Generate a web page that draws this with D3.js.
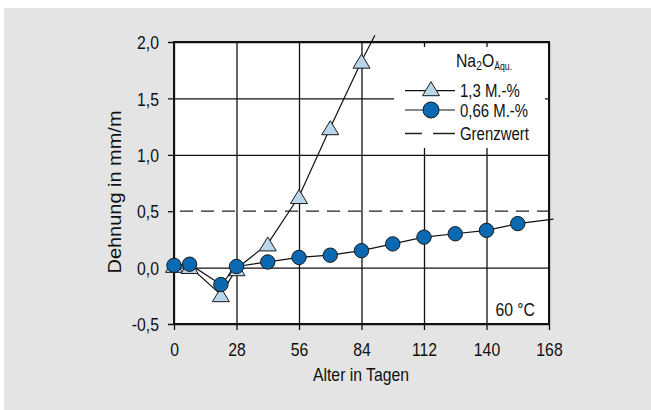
<!DOCTYPE html>
<html>
<head>
<meta charset="utf-8">
<script src="https://cdn.jsdelivr.net/npm/d3@7"></script>
<style>
  html, body { margin: 0; padding: 0; background: #ffffff; }
  svg { display: block; }
  text { font-family: "Liberation Sans", Arial, sans-serif; fill: #111; }
</style>
</head>
<body>
<svg id="chart" width="651" height="410"></svg>
<script>
// ---- data ----
const xTicks = [0, 28, 56, 84, 112, 140, 168];
const yTicks = [-0.5, 0.0, 0.5, 1.0, 1.5, 2.0];

const days13 = [0, 7, 21, 28, 42, 56, 70, 84];
const vals13 = [0.02, 0.01, -0.24, -0.01, 0.21, 0.63, 1.24, 1.83];
const trendEnd13 = [90, 2.06];

const days066 = [0, 7, 21, 28, 42, 56, 70, 84, 98, 112, 126, 140, 154];
const vals066 = [0.02, 0.03, -0.15, 0.01, 0.05, 0.09, 0.11, 0.15, 0.21, 0.27, 0.30, 0.33, 0.39];
const trendEnd066 = [170, 0.43];

const limitValue = 0.5;
const legendTitle = "Na";
const legendLabels = ["1,3 M.-%", "0,66 M.-%", "Grenzwert"];
const tempLabel = "60 °C";
const xTitle = "Alter in Tagen";
const yTitle = "Dehnung in mm/m";

// ---- layout ----
const SX = 0.83; // horizontal condensing of the font
const FS = 19;
const svg = d3.select("#chart");
const L = 174, R = 549, T = 42, B = 324;
const x = d3.scaleLinear().domain([0, 168]).range([L, R]);
const y = d3.scaleLinear().domain([-0.5, 2.0]).range([B, T]);
const fmt = d => d3.format(".1f")(d).replace(".", ",").replace("−", "-");

function ctext(px, py, str, size, anchor) {
  return svg.append("text")
    .attr("transform", `translate(${px},${py}) scale(${SX},1)`)
    .attr("text-anchor", anchor || "start")
    .attr("font-size", size || FS)
    .text(str);
}

// background
svg.append("rect").attr("x", 4).attr("y", 8).attr("width", 647).attr("height", 402).attr("fill", "#e3e4e3");
svg.append("rect").attr("x", L).attr("y", T).attr("width", R - L).attr("height", B - T).attr("fill", "#fff");

// grid + ticks via axes
const gx = svg.append("g").attr("transform", `translate(0,${B})`)
  .call(d3.axisBottom(x).tickValues(xTicks).tickSize(-(B - T)).tickSizeOuter(0).tickPadding(0));
gx.select(".domain").remove();
gx.selectAll(".tick line").attr("stroke", "#111").attr("stroke-width", 1.3).attr("y1", 6);
gx.selectAll(".tick text").attr("font-size", FS).attr("dy", 0).attr("y", 32)
  .attr("transform", `scale(${SX},1)`)
  .attr("font-family", "Liberation Sans, Arial, sans-serif").attr("fill", "#111");

const gy = svg.append("g").attr("transform", `translate(${L},0)`)
  .call(d3.axisLeft(y).tickValues(yTicks).tickSize(-(R - L)).tickSizeOuter(0).tickPadding(0).tickFormat(fmt));
gy.select(".domain").remove();
gy.selectAll(".tick line").attr("stroke", "#111").attr("stroke-width", 1.3).attr("x1", -6)
  .attr("x2", d => d === limitValue ? 0 : (R - L));
gy.selectAll(".tick text").attr("font-size", FS).attr("x", -15 / SX).attr("dy", "0.35em")
  .attr("transform", `scale(${SX},1)`)
  .attr("font-family", "Liberation Sans, Arial, sans-serif").attr("fill", "#111");

// legend box (covers grid)
svg.append("rect").attr("x", 394).attr("y", 47).attr("width", 151).attr("height", 101).attr("fill", "#fff");

// border
svg.append("rect").attr("x", L).attr("y", T).attr("width", R - L).attr("height", B - T)
  .attr("fill", "none").attr("stroke", "#111").attr("stroke-width", 2);

// limit line
svg.append("line").attr("x1", L).attr("x2", R).attr("y1", y(limitValue)).attr("y2", y(limitValue))
  .attr("stroke", "#222").attr("stroke-width", 1.3).attr("stroke-dasharray", "13,8").attr("stroke-dashoffset", 15);

// series
const line = d3.line().x(d => x(d[0])).y(d => y(d[1]));
const pts13 = days13.map((d, i) => [d, vals13[i]]);
const pts066 = days066.map((d, i) => [d, vals066[i]]);

const triW = 17, triH = 14;
const triPath = (cx, cy) => `M${cx},${cy - triH / 2}L${cx + triW / 2},${cy + triH / 2}L${cx - triW / 2},${cy + triH / 2}Z`;

svg.append("path").datum(pts13.concat([trendEnd13])).attr("d", line)
  .attr("fill", "none").attr("stroke", "#111").attr("stroke-width", 1.2);
svg.append("g").selectAll("path").data(pts13).join("path")
  .attr("d", d => triPath(x(d[0]), y(d[1])))
  .attr("fill", "#b9d6ea").attr("stroke", "#1a1a1a").attr("stroke-width", 1);

svg.append("path").datum(pts066.concat([trendEnd066])).attr("d", line)
  .attr("fill", "none").attr("stroke", "#111").attr("stroke-width", 1.2);
svg.append("g").selectAll("circle").data(pts066).join("circle")
  .attr("cx", d => x(d[0])).attr("cy", d => y(d[1])).attr("r", 7.2)
  .attr("fill", "#0a69b0").attr("stroke", "#1a1a1a").attr("stroke-width", 1);

// legend
const lt = svg.append("text").attr("transform", `translate(456,67) scale(${SX},1)`).attr("font-size", FS);
lt.append("tspan").text(legendTitle);
lt.append("tspan").text("2").attr("font-size", 12.5).attr("dy", 3);
lt.append("tspan").text("O").attr("dy", -3);
lt.append("tspan").text("Äqu.").attr("font-size", 10.5).attr("dy", 3);

const ly = [90.7, 110, 133.5];
const lb = [96.5, 116.5, 140];
svg.append("line").attr("x1", 405).attr("x2", 455).attr("y1", ly[0]).attr("y2", ly[0]).attr("stroke", "#111").attr("stroke-width", 1.2);
svg.append("path").attr("d", triPath(431, ly[0] - 2)).attr("fill", "#b9d6ea").attr("stroke", "#1a1a1a").attr("stroke-width", 1);
svg.append("line").attr("x1", 405).attr("x2", 455).attr("y1", ly[1]).attr("y2", ly[1]).attr("stroke", "#111").attr("stroke-width", 1.2);
svg.append("circle").attr("cx", 431).attr("cy", ly[1]).attr("r", 8).attr("fill", "#0a69b0").attr("stroke", "#1a1a1a").attr("stroke-width", 1);
svg.append("line").attr("x1", 405).attr("x2", 455).attr("y1", ly[2]).attr("y2", ly[2]).attr("stroke", "#222").attr("stroke-width", 1.3).attr("stroke-dasharray", "17,11,50");

legendLabels.forEach((t, i) => ctext(460, lb[i], t, 18));

// temperature label
ctext(535, 316, tempLabel, FS, "end");

// axis titles
ctext(361, 381, xTitle, FS, "middle");
svg.append("text").attr("transform", "translate(121,192) rotate(-90)").attr("text-anchor", "middle")
  .attr("font-size", 18)
  .attr("textLength", 163).attr("lengthAdjust", "spacingAndGlyphs").text(yTitle);
</script>
</body>
</html>
